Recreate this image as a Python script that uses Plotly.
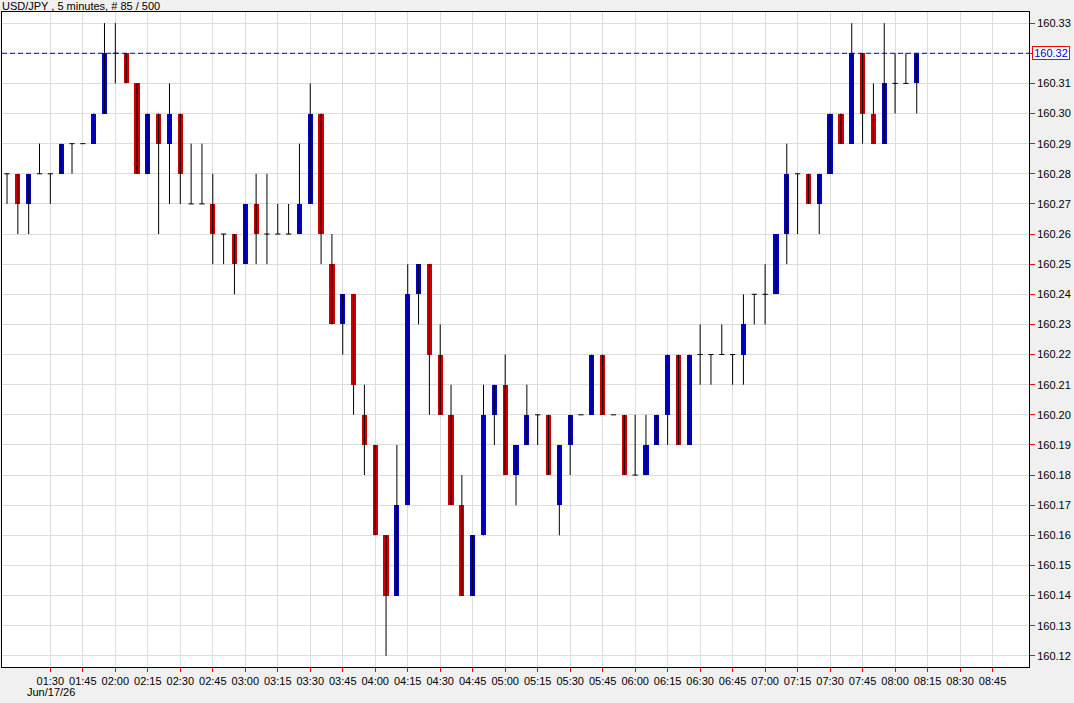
import plotly.graph_objects as go
import pandas as pd

DATE = "2026-06-17"
start_time = "01:10"
n_bars = 85

opens = [160.28, 160.28, 160.27, 160.28, 160.28, 160.28, 160.29, 160.29, 160.29, 160.30,
         160.32, 160.32, 160.31, 160.28, 160.30, 160.29, 160.30, 160.27, 160.27, 160.27,
         160.26, 160.26, 160.25, 160.27, 160.26, 160.26, 160.26, 160.26, 160.27, 160.30,
         160.25, 160.23, 160.24, 160.20, 160.19, 160.16, 160.14, 160.17, 160.24, 160.25,
         160.22, 160.20, 160.17, 160.14, 160.16, 160.20, 160.21, 160.18, 160.19, 160.20,
         160.20, 160.17, 160.19, 160.20, 160.20, 160.22, 160.20, 160.20, 160.18, 160.18,
         160.19, 160.20, 160.22, 160.19, 160.22, 160.22, 160.22, 160.22, 160.22, 160.24,
         160.24, 160.24, 160.26, 160.28, 160.28, 160.27, 160.28, 160.30, 160.29, 160.32,
         160.30, 160.29, 160.31, 160.31, 160.31]
highs = [160.28, 160.28, 160.28, 160.29, 160.28, 160.29, 160.29, 160.29, 160.30, 160.33,
         160.33, 160.32, 160.31, 160.30, 160.30, 160.31, 160.30, 160.29, 160.29, 160.28,
         160.26, 160.26, 160.27, 160.28, 160.28, 160.27, 160.27, 160.29, 160.31, 160.30,
         160.26, 160.24, 160.24, 160.21, 160.19, 160.16, 160.19, 160.25, 160.25, 160.25,
         160.23, 160.21, 160.18, 160.16, 160.21, 160.21, 160.22, 160.19, 160.21, 160.20,
         160.20, 160.19, 160.20, 160.20, 160.22, 160.22, 160.20, 160.20, 160.20, 160.20,
         160.20, 160.22, 160.22, 160.22, 160.23, 160.22, 160.23, 160.22, 160.24, 160.24,
         160.25, 160.26, 160.29, 160.28, 160.28, 160.28, 160.30, 160.30, 160.33, 160.32,
         160.31, 160.33, 160.32, 160.32, 160.32]
lows = [160.27, 160.26, 160.26, 160.28, 160.27, 160.28, 160.28, 160.29, 160.29, 160.30,
        160.31, 160.31, 160.28, 160.28, 160.26, 160.27, 160.27, 160.27, 160.27, 160.25,
        160.25, 160.24, 160.25, 160.25, 160.25, 160.26, 160.26, 160.26, 160.27, 160.25,
        160.23, 160.22, 160.20, 160.18, 160.16, 160.12, 160.14, 160.17, 160.23, 160.20,
        160.20, 160.17, 160.14, 160.14, 160.16, 160.19, 160.18, 160.17, 160.19, 160.19,
        160.18, 160.16, 160.18, 160.20, 160.20, 160.20, 160.20, 160.18, 160.18, 160.18,
        160.19, 160.19, 160.19, 160.19, 160.21, 160.21, 160.22, 160.21, 160.21, 160.23,
        160.23, 160.24, 160.25, 160.26, 160.27, 160.26, 160.28, 160.29, 160.29, 160.29,
        160.29, 160.29, 160.30, 160.31, 160.30]
closes = [160.28, 160.27, 160.28, 160.28, 160.28, 160.29, 160.29, 160.29, 160.30, 160.32,
          160.32, 160.31, 160.28, 160.30, 160.29, 160.30, 160.28, 160.27, 160.27, 160.26,
          160.26, 160.25, 160.27, 160.26, 160.26, 160.26, 160.26, 160.27, 160.30, 160.26,
          160.23, 160.24, 160.21, 160.19, 160.16, 160.14, 160.17, 160.24, 160.25, 160.22,
          160.20, 160.17, 160.14, 160.16, 160.20, 160.21, 160.18, 160.19, 160.20, 160.20,
          160.18, 160.19, 160.20, 160.20, 160.22, 160.20, 160.20, 160.18, 160.18, 160.19,
          160.20, 160.22, 160.19, 160.22, 160.22, 160.22, 160.22, 160.22, 160.23, 160.24,
          160.24, 160.26, 160.28, 160.28, 160.27, 160.28, 160.30, 160.29, 160.32, 160.30,
          160.29, 160.31, 160.31, 160.31, 160.32]

x_tick_labels = ["01:30", "01:45", "02:00", "02:15", "02:30", "02:45", "03:00", "03:15",
                 "03:30", "03:45", "04:00", "04:15", "04:30", "04:45", "05:00", "05:15",
                 "05:30", "05:45", "06:00", "06:15", "06:30", "06:45", "07:00", "07:15",
                 "07:30", "07:45", "08:00", "08:15", "08:30", "08:45"]
y_tick_values = [160.12, 160.13, 160.14, 160.15, 160.16, 160.17, 160.18, 160.19, 160.20,
                 160.21, 160.22, 160.23, 160.24, 160.25, 160.26, 160.27, 160.28, 160.29,
                 160.30, 160.31, 160.32, 160.33]

title_text = "USD/JPY , 5 minutes, # 85 / 500"
date_text = "Jun/17/26"

UP = "#0000cc"
DOWN = "#cc0000"
BAR_MS = 144000

times = pd.date_range(f"{DATE} {start_time}", periods=n_bars, freq="5min")
half = pd.Timedelta(milliseconds=BAR_MS / 2)

# wicks
wx, wy = [], []
for t, h, l in zip(times, highs, lows):
    if h != l:
        wx += [t, t, None]
        wy += [l, h, None]

# doji horizontal segments
dx, dy = [], []
for t, o, c in zip(times, opens, closes):
    if abs(o - c) < 1e-9:
        dx += [t - half, t + half, None]
        dy += [o, o, None]

bases = [min(o, c) for o, c in zip(opens, closes)]
heights = [abs(c - o) for o, c in zip(opens, closes)]
colors = [UP if c > o else DOWN for o, c in zip(opens, closes)]

fig = go.Figure()
fig.add_trace(go.Scatter(x=wx, y=wy, mode="lines", line=dict(color="black", width=1),
                         hoverinfo="skip"))
fig.add_trace(go.Bar(x=times, y=heights, base=bases, width=BAR_MS,
                     marker=dict(color=colors, line=dict(width=0))))
fig.add_trace(go.Scatter(x=dx, y=dy, mode="lines", line=dict(color="black", width=1),
                         hoverinfo="skip"))

last_close = closes[-1]
fig.add_shape(type="line", xref="paper", x0=0, x1=1, yref="y", y0=last_close, y1=last_close,
              line=dict(color="#0000cc", width=1, dash="5px,3px"))

font = dict(family="Arial, Liberation Sans, sans-serif", size=11, color="black")

fig.add_annotation(xref="paper", x=1, xshift=3, xanchor="left", yref="y", y=last_close,
                   yanchor="middle", text=f"{last_close:.2f}", showarrow=False, width=36,
                   font=dict(family=font["family"], size=11, color="#0000cc"),
                   bgcolor="white", bordercolor="red", borderwidth=1, borderpad=0)
fig.add_annotation(xref="paper", x=0, xanchor="left", xshift=-2, yref="paper", y=1,
                   yanchor="bottom", yshift=-2, text=title_text, showarrow=False, font=font)
fig.add_annotation(xref="paper", x=0, xanchor="left", xshift=23, yref="paper", y=0,
                   yanchor="middle", yshift=-25, text=date_text, showarrow=False, font=font)

y_tick_text = ["" if abs(v - last_close) < 1e-9 else f"{v:.2f}" for v in y_tick_values]

fig.update_layout(
    width=1074, height=703,
    margin=dict(l=2, r=45, t=12, b=36),
    paper_bgcolor="#f0f0f0", plot_bgcolor="white",
    showlegend=False, bargap=0,
    font=font,
    xaxis=dict(
        type="date",
        range=[f"{DATE} 01:07:41", f"{DATE} 09:01:50"],
        tickvals=[f"{DATE} {s}" for s in x_tick_labels], ticktext=x_tick_labels,
        ticks="outside", ticklen=4, tickcolor="red", tickwidth=1,
        showgrid=True, gridcolor="#dcdcdc", gridwidth=1,
        showline=True, linecolor="black", linewidth=1, mirror=True,
        zeroline=False, tickfont=font, fixedrange=True,
    ),
    yaxis=dict(
        side="right",
        range=[160.1163, 160.3337],
        tickvals=y_tick_values, ticktext=y_tick_text,
        ticks="outside", ticklen=5, tickcolor="red", tickwidth=1,
        showgrid=True, gridcolor="#dcdcdc", gridwidth=1,
        showline=True, linecolor="black", linewidth=1, mirror=True,
        zeroline=False, tickfont=font, fixedrange=True,
    ),
)

fig.write_html("out.html")
